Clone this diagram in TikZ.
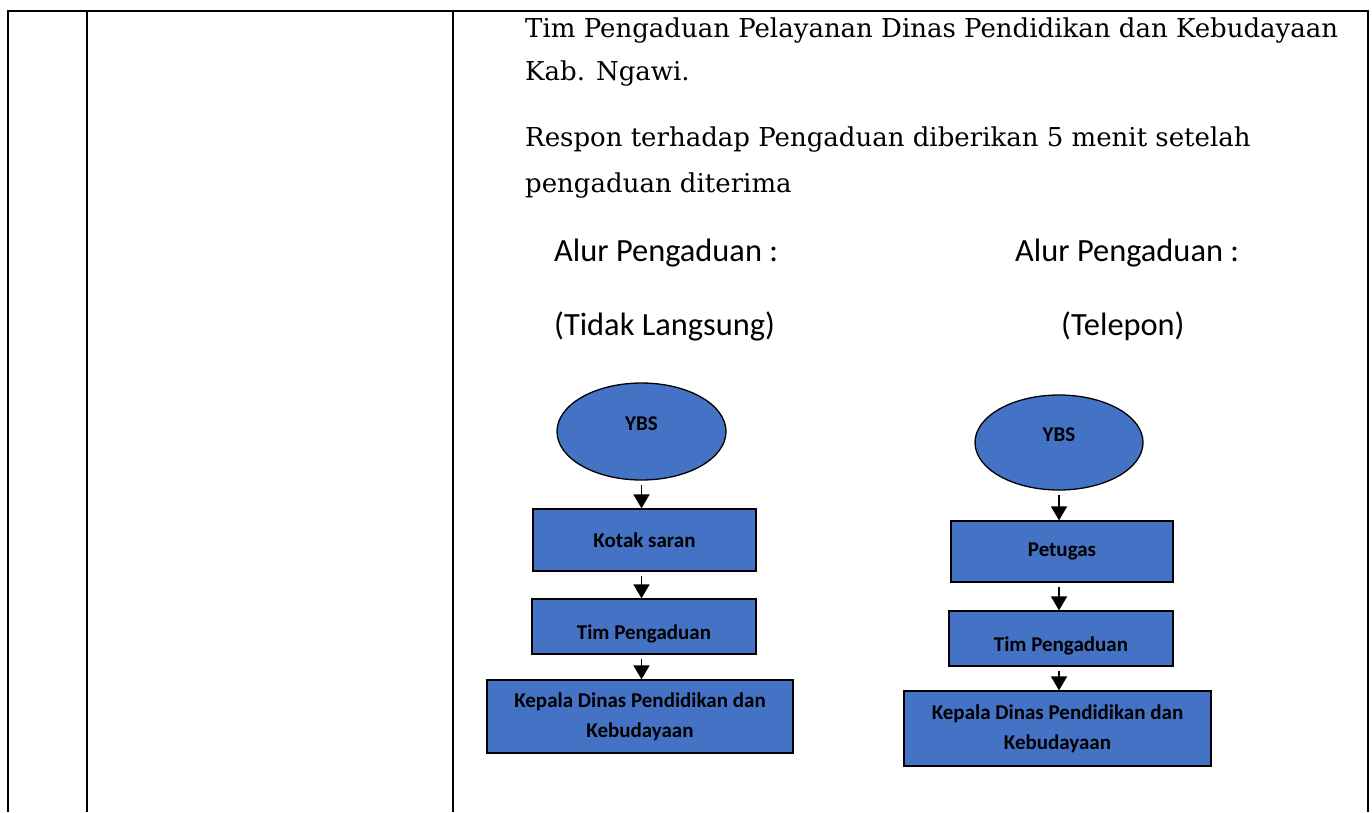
\documentclass[tikz,border=0pt]{standalone}
\usepackage{fontspec}
\setmainfont{DejaVu Serif}
\newfontfamily\calibri{Carlito}
\usetikzlibrary{shapes.geometric,arrows.meta}
\definecolor{boxblue}{RGB}{68,114,196}
\tikzset{
  bodytxt/.style={anchor=base west, inner sep=0pt, font=\fontsize{26}{30}\selectfont},
  headtxt/.style={anchor=base west, inner sep=0pt, font=\calibri\fontsize{32.4}{36}\selectfont},
  ybs/.style={ellipse, draw=black, line width=1.3pt, fill=boxblue, inner sep=0pt,
    text depth=16pt, font=\calibri\bfseries\fontsize{21}{24}\selectfont},
  stepbox/.style={rectangle, draw=black, line width=1.3pt, fill=boxblue, inner sep=0pt,
    align=center, font=\calibri\bfseries\fontsize{21}{30}\selectfont},
  lowtext/.style={text height=30pt, text depth=5pt},
  flow/.style={line width=1.8pt, -{Triangle[width=16pt,length=14pt]}, shorten <=4pt}
}
\begin{document}
\begin{tikzpicture}[x=1pt, y=-1pt]
  \useasboundingbox (0,0) rectangle (1372,812);
  % table frame
  \draw[line width=2.4pt] (8,11) -- (1368,11);
  \foreach \x in {8,87,453,1368}
    \draw[line width=2.4pt] (\x,10) -- (\x,812);
  % text in the cell
  \node[bodytxt] (tim) at (525,37) {Tim Pengaduan Pelayanan Dinas Pendidikan dan Kebudayaan};
  \node[bodytxt] (kab) at (525,80) {Kab. Ngawi.};
  \node[bodytxt] (respon) at (525,146) {Respon terhadap Pengaduan diberikan 5 menit setelah};
  \node[bodytxt] (diterima) at (525,192) {pengaduan diterima};
  % headings
  \node[headtxt] (alurA) at (554,261) {Alur Pengaduan :};
  \node[headtxt] (jenisA) at (554,335) {(Tidak Langsung)};
  \node[headtxt] (alurB) at (1015,261) {Alur Pengaduan :};
  \node[headtxt] (jenisB) at (1061,335) {(Telepon)};
  % flow 1
  \node[ybs, minimum width=169pt, minimum height=97pt] (ybsA) at (641.5,431.5) {YBS};
  \node[stepbox, minimum width=223pt, minimum height=62pt] (kotakA) at (644.5,540) {Kotak saran};
  \node[stepbox, lowtext, minimum width=224pt, minimum height=55pt] (timA) at (644,626.5) {Tim Pengaduan};
  \node[stepbox, minimum width=306pt, minimum height=73pt] (kepalaA) at (640,716.5)
    {Kepala Dinas Pendidikan dan\\Kebudayaan};
  \draw[flow] (ybsA.south) -- (ybsA.south |- kotakA.north);
  \draw[flow] (ybsA.south |- kotakA.south) -- (ybsA.south |- timA.north);
  \draw[flow] (ybsA.south |- timA.south) -- (ybsA.south |- kepalaA.north);
  % flow 2
  \node[ybs, minimum width=168pt, minimum height=95pt] (ybsB) at (1059,442.5) {YBS};
  \node[stepbox, minimum width=222pt, minimum height=61pt] (petugasB) at (1062,551.5) {Petugas};
  \node[stepbox, lowtext, minimum width=224pt, minimum height=55pt] (timB) at (1061,638.5) {Tim Pengaduan};
  \node[stepbox, minimum width=307pt, minimum height=75pt] (kepalaB) at (1057.5,728.5)
    {Kepala Dinas Pendidikan dan\\Kebudayaan};
  \draw[flow] (ybsB.south) -- (ybsB.south |- petugasB.north);
  \draw[flow] (ybsB.south |- petugasB.south) -- (ybsB.south |- timB.north);
  \draw[flow] (ybsB.south |- timB.south) -- (ybsB.south |- kepalaB.north);
\end{tikzpicture}
\end{document}
